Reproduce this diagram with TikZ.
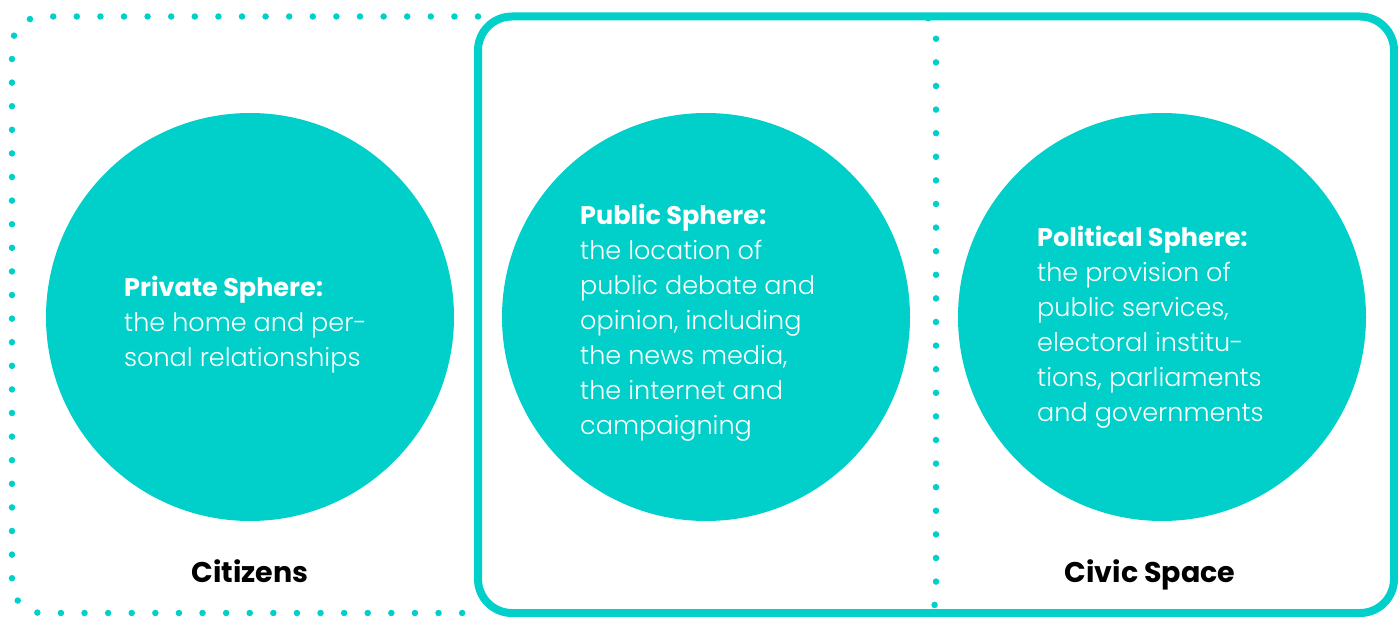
\documentclass[tikz,border=0pt]{standalone}
\usepackage{fontspec}
\setmainfont{Poppins}[UprightFont=* Light, BoldFont=* Bold]
\definecolor{teal}{HTML}{00D0C9}
\begin{document}
\begin{tikzpicture}[x=1pt,y=-1pt,
  dotline/.style={draw=teal, line width=6.5pt, line cap=round,
    dash pattern=on 0pt off 23.6pt},
  frame/.style={draw=teal, line width=8pt, rounded corners=34pt},
  sphere/.style={circle, fill=teal, minimum size=408pt, inner sep=0pt},
  body/.style={text=white, font=\fontsize{25.5}{35}\selectfont, align=left,
    anchor=north west, inner sep=0pt},
  label/.style={font=\fontsize{28.5}{32}\selectfont\bfseries, text=black,
    anchor=base, inner sep=0pt}]
\useasboundingbox (0,0) rectangle (1398,617);
% dotted outline of the citizens' side
\draw[dotline, rounded corners=30pt] (478,16.5) -- (12,16.5) -- (12,613) -- (478,613);
% dotted divider inside the civic space
\draw[dotline, rounded corners=14pt] (905,16.5) -- (936,16.5) -- (936,613) -- (905,613);
% solid civic space frame
\draw[frame] (478,16.5) rectangle (1394,613);
% the three spheres
\node[sphere] (priv) at (250,317) {};
\node[sphere] (pub) at (706,317) {};
\node[sphere] (pol) at (1162,317) {};
\node[body] (privtxt) at (124,276) {\textbf{Private Sphere:}\\the home and per-\\sonal relationships};
\node[body] (pubtxt) at (580,204) {\textbf{Public Sphere:}\\the location of\\public debate and\\opinion, including\\the news media,\\the internet and\\campaigning};
\node[body] (poltxt) at (1037,226) {\textbf{Political Sphere:}\\the provision of\\public services,\\electoral institu-\\tions, parliaments\\and governments};
\node[label] (cit) at (250,582) {Citizens};
\node[label] (civ) at (1150,582) {Civic Space};
\end{tikzpicture}
\end{document}
